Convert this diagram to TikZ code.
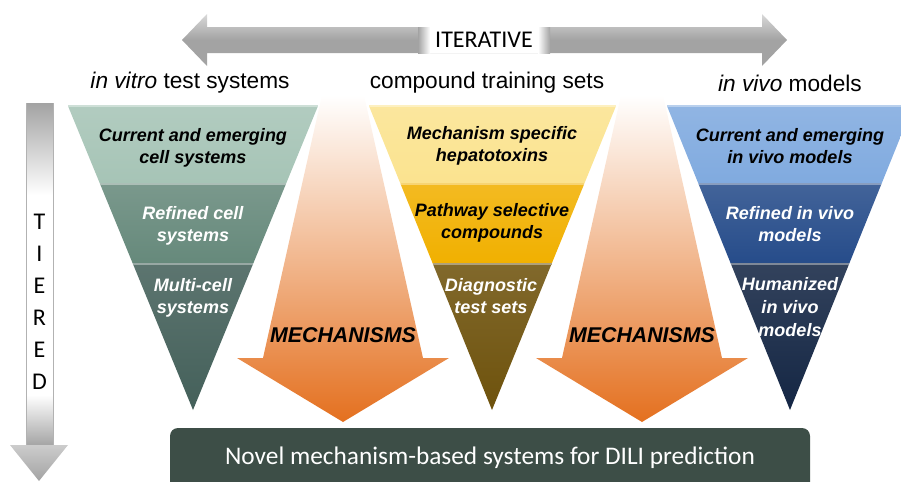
\documentclass[tikz,border=0pt]{standalone}
\usepackage{fontspec}
\setmainfont{Liberation Sans}
\newfontfamily\calibri{Carlito}
\usepackage{xcolor}
\usetikzlibrary{calc}

\definecolor{vitro1}{HTML}{A6C4B6}
\definecolor{vitro2}{HTML}{66897B}
\definecolor{vitro3}{HTML}{44605A}
\definecolor{cmpd1}{HTML}{FBE38F}
\definecolor{cmpd2}{HTML}{F1B000}
\definecolor{cmpd3}{HTML}{6E520C}
\definecolor{vivo1}{HTML}{80AADF}
\definecolor{vivo2}{HTML}{264C8A}
\definecolor{vivo3}{HTML}{142644}
\definecolor{mechD}{HTML}{E4701F}
\definecolor{mechM}{HTML}{F3BC96}
\definecolor{arrowgray}{HTML}{A3A3A3}
\definecolor{boxgreen}{HTML}{3D4E47}

\begin{document}
\begin{tikzpicture}[x=0.75pt,y=-0.75pt,
  title/.style={font=\fontsize{17}{20}\selectfont},
  tiertext/.style={font=\fontsize{13.5}{17}\selectfont\bfseries\itshape, align=center, inner sep=0pt},
  mechtext/.style={font=\fontsize{16}{19}\selectfont\bfseries\itshape},
  letter/.style={font=\calibri\fontsize{18}{20}\selectfont, inner sep=0pt}]

  \useasboundingbox (0,0) rectangle (901,482);
  \clip (0,0) rectangle (901,482);

  % Iterative arrow
  \shade[top color=gray!30, bottom color=arrowgray, middle color=arrowgray]
    (182,40) -- (207,14) -- (207,27) -- (762,27) -- (762,14) -- (787,40)
    -- (762,66) -- (762,53) -- (207,53) -- (207,66) -- cycle;
  \shade[left color=arrowgray, right color=white] (418,27) rectangle (430,53);
  \shade[left color=white, right color=arrowgray] (538,27) rectangle (550,53);
  \node[fill=white, minimum width=108*0.75pt, minimum height=26*0.75pt, inner sep=0pt,
    font=\calibri\fontsize{18}{20}\selectfont] (iter) at (484,40) {ITERATIVE};

  % Column titles
  \node[title] (vitrotitle) at (190,83) {\textit{in vitro} test systems};
  \node[title] (cmpdtitle) at (487,83) {compound training sets};
  \node[title] (vivotitle) at (790,83) {\textit{in vivo} models};

  % Tiered arrow
  \shade[top color=arrowgray, bottom color=white] (26,103) rectangle (53,195);
  \fill[white] (26,195) rectangle (53,395);
  \shade[top color=white, bottom color=arrowgray] (26,395) rectangle (53,446);
  \draw[gray!60, line width=0.6] (26,103) -- (26,446) (53,103) -- (53,446);
  \shade[top color=gray!40, bottom color=arrowgray] (10,445) -- (68,445) -- (39,481) -- cycle;
  \foreach \l/\y in {T/222, I/254, E/286, R/318, E/350, D/382} {
    \node[letter] (tier\y) at (39.5,\y) {\l};
  }

  % Mechanism arrows
  \foreach \cx in {343, 642} {
    \shade[top color=white, middle color=mechM, bottom color=mechD]
      (\cx-21,95) -- (\cx+21,95) -- (\cx+80,358) -- (\cx+106,358) -- (\cx,422)
      -- (\cx-106,358) -- (\cx-80,358) -- cycle;
    \node[mechtext] (mech\cx) at (\cx,335) {MECHANISMS};
  }

  % Triangles, one band per layer
  \foreach \xl/\xr/\xa/\cname in {68/318/193/vitro, 369/616/492/cmpd, 667/913/790/vivo} {
    \foreach \ya/\yb/\k in {106/184/1, 184/264/2, 264/410/3} {
      \shade[top color=\cname\k!87!white, bottom color=\cname\k]
        ($(\xl,106)!{(\ya-106)/304}!(\xa,410)$) -- ($(\xr,106)!{(\ya-106)/304}!(\xa,410)$)
        -- ($(\xr,106)!{(\yb-106)/304}!(\xa,410)$) -- ($(\xl,106)!{(\yb-106)/304}!(\xa,410)$) -- cycle;
      \draw[\cname\k!55!white, line width=1.2]
        ($(\xl,106)!{(\ya-106)/304}!(\xa,410)$) -- ($(\xr,106)!{(\ya-106)/304}!(\xa,410)$);
    }
  }

  % Layer texts
  \foreach \n/\x/\y/\c/\txt in {
      vitroA/193/148/black/{Current and emerging\\cell systems},
      vitroB/193/226/white/{Refined cell\\systems},
      vitroC/193/298/white/{Multi-cell\\systems},
      cmpdA/492/146/black/{Mechanism specific\\hepatotoxins},
      cmpdB/492/223/black/{Pathway selective\\compounds},
      cmpdC/491/296/white/{Diagnostic\\test sets},
      vivoA/790/146/black/{Current and emerging\\in vivo models},
      vivoB/790/224/white/{Refined in vivo\\models},
      vivoC/790/307/white/{Humanized\\in vivo\\models}} {
    \node[tiertext, text=\c] (\n) at (\x,\y) {\txt};
  }

  % Result box
  \fill[boxgreen, rounded corners=6pt] (170,428) rectangle (810,500);
  \node[text=white, font=\calibri\fontsize{19}{22}\selectfont] (dili) at (490,458)
    {Novel mechanism-based systems for DILI prediction};

\end{tikzpicture}
\end{document}
